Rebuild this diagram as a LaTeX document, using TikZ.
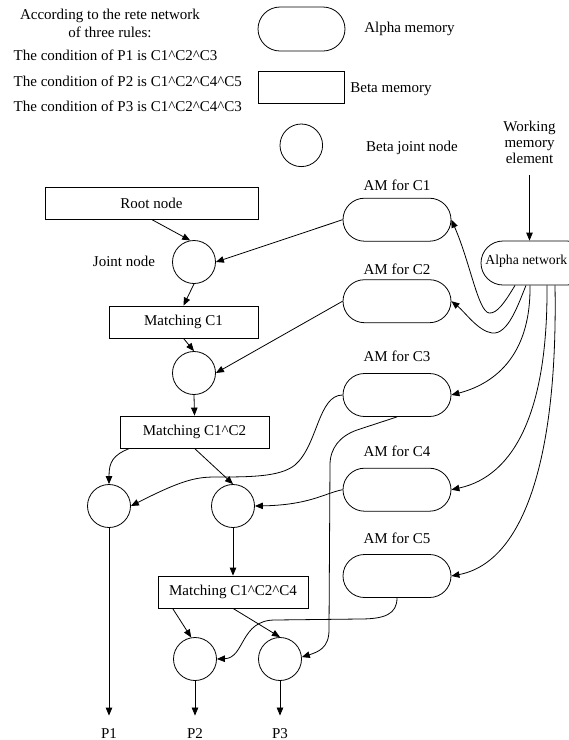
\documentclass[tikz,border=0pt]{standalone}
\usepackage{fontspec}
\setmainfont{Liberation Serif}
\usetikzlibrary{shapes.misc,arrows.meta}
\newcommand{\andc}{\textasciicircum}

\begin{document}
\begin{tikzpicture}[x=1pt,y=-1pt,line width=0.8pt,
		every node/.style={font=\fontsize{15}{17.7}\selectfont},
		amem/.style={draw,rounded rectangle,minimum width=108pt,minimum height=43pt,inner sep=0pt},
		bmem/.style={draw,rectangle,minimum height=32pt,inner sep=0pt},
		joint/.style={draw,circle,minimum size=43pt,inner sep=0pt},
		txt/.style={anchor=base,inner sep=0pt},
		plabel/.style={anchor=base,inner sep=0pt,outer ysep=12.5pt},
		arr/.style={-{Triangle[length=8pt,width=6.5pt]}}]
	\useasboundingbox (0,0) rectangle (569,740);
	\node[align=center,inner sep=0pt] (rete) at (110,23.7) {According to the rete network\\of three rules:};
	\node[txt,anchor=base west] (cond1) at (13.3,60) {The condition of P1 is C1\andc C2\andc C3};
	\node[txt,anchor=base west] (cond2) at (13.3,86) {The condition of P2 is C1\andc C2\andc C4\andc C5};
	\node[txt,anchor=base west] (cond3) at (13.3,111.7) {The condition of P3 is C1\andc C2\andc C4\andc C3};
	\node[amem,minimum width=87pt,minimum height=44pt] (lgalpha) at (301.5,29) {};
	\node[bmem,minimum width=86pt] (lgbeta) at (301,87) {};
	\node[joint,minimum size=42.6pt] (lgjoint) at (301.3,145.3) {};
	\node[txt] (lgalphatext) at (409.5,32.5) {Alpha memory};
	\node[txt] (lgbetatext) at (391,92.5) {Beta memory};
	\node[txt] (lgjointtext) at (412,151.5) {Beta joint node};
	\node[align=center,inner sep=0pt,outer ysep=12pt,font=\fontsize{15}{15.7}\selectfont] (wme) at (529.5,142.5) {Working\\memory\\element};

	\node[bmem,minimum width=213pt] (root) at (151.5,203) {Root node};
	\node[joint] (j1) at (194,262) {};
	\node[txt] (jointtext) at (124,266.5) {Joint node};
	\node[bmem,minimum width=149pt] (mc1) at (183.5,322) {Matching C1};
	\node[joint] (j2) at (194,373) {};
	\node[bmem,minimum width=149pt] (mc12) at (194.5,432) {Matching C1\andc C2};
	\node[joint] (j3) at (109,506) {};
	\node[joint] (j4) at (233,506) {};
	\node[bmem,minimum width=150pt] (mc124) at (233,592) {Matching C1\andc C2\andc C4};
	\node[joint] (j5) at (195,659) {};
	\node[joint] (j6) at (280,659) {};
	\node[plabel] (p1) at (109,738) {P1};
	\node[plabel] (p2) at (195,738) {P2};
	\node[plabel] (p3) at (280,738) {P3};

	\node[amem] (am1) at (397,219.7) {};
	\node[amem] (am2) at (397,301.2) {};
	\node[amem] (am3) at (397,395) {};
	\node[amem] (am4) at (397,489.7) {};
	\node[amem] (am5) at (397,576) {};
	\node[txt] (am1text) at (397,190.5) {AM for C1};
	\node[txt] (am2text) at (397,274) {AM for C2};
	\node[txt] (am3text) at (397,361.5) {AM for C3};
	\node[txt] (am4text) at (397,456.7) {AM for C4};
	\node[txt] (am5text) at (397,543.3) {AM for C5};
	\node[amem,minimum height=44pt] (alpha) at (535,263) {};
	\node[txt,anchor=base west,font=\fontsize{13.7}{16}\selectfont] (alphatext) at (485,264.3) {Alpha network};

	\draw[arr] (wme.south) -- (wme.south |- alpha.north);
	\draw[arr] (root.south) -- (j1.100);
	\draw[arr] (am1.west) -- (j1.east);
	\draw[arr] (j1.south) -- (mc1.north);
	\draw[arr] (mc1.south) -- (j2.north);
	\draw[arr] (am2.west) -- (j2.east);
	\draw[arr] (j2.south) -- (mc12.north);
	\draw[arr] ([xshift=10pt]mc12.south west) .. controls (113,455) and (109,462) .. (j3.north);
	\draw[arr] (mc12.south) -- (j4.north);
	\draw[arr] (am3.west) .. controls (318,395) and (318,445) .. (295,465) .. controls (280,477) and (250,477) .. (215,477) .. controls (195,477) and (180,481) .. (j3.east);
	\draw[arr] (am3.south) -- (357,430) .. controls (340,436) and (330,448) .. (330,465) -- (329,630) .. controls (329,648) and (318,652) .. (j6.5);
	\draw[arr] (am4.west) .. controls (325,493) and (310,505) .. (j4.east);
	\draw[arr] (am5.south) .. controls (397,614) and (385,619) .. (360,619) -- (275,620) .. controls (240,620) and (245,658) .. (j5.east);
	\draw[arr] (j4.south) -- (mc124.north);
	\draw[arr] ([xshift=15pt]mc124.south west) -- (j5.100);
	\draw[arr] (mc124.south) -- (j6.north);
	\draw[arr] (j3.south) -- (p1.north);
	\draw[arr] (j5.south) -- (p2.north);
	\draw[arr] (j6.south) -- (p3.north);
	\draw[arr] ([xshift=-20pt]alpha.south) .. controls (505,302) and (497,314) .. (489,313) .. controls (478,311) and (470,262) .. (am1.east);
	\draw[arr] ([xshift=-9pt]alpha.south) .. controls (518,305) and (508,335) .. (492,333) .. controls (478,331) and (465,312) .. (am2.east);
	\draw[arr] ([xshift=-5pt]alpha.south) .. controls (531,360) and (490,385) .. (am3.east);
	\draw[arr] ([xshift=12pt]alpha.south) .. controls (548,410) and (515,476) .. (am4.east);
	\draw[arr] ([xshift=20pt]alpha.south) .. controls (558,455) and (525,562) .. (am5.east);
\end{tikzpicture}
\end{document}
